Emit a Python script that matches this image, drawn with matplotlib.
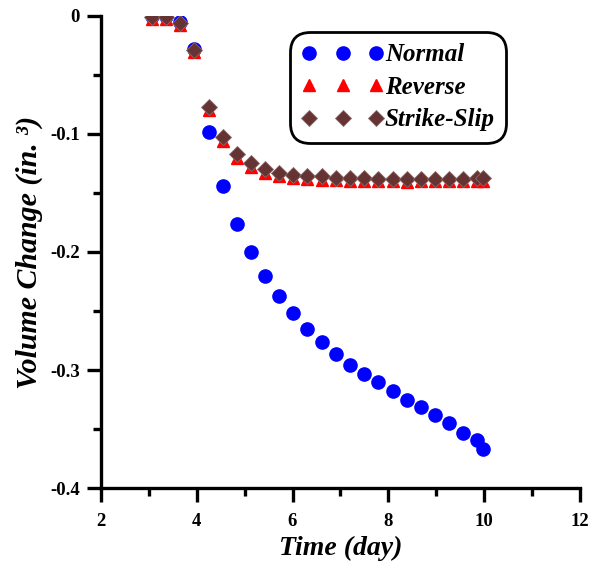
import matplotlib
matplotlib.use("Agg")
import matplotlib.pyplot as plt
from matplotlib.ticker import MultipleLocator

plt.rcParams['font.family'] = ['Liberation Serif', 'DejaVu Serif']

time_day = [3.06, 3.36, 3.65, 3.95, 4.25, 4.54, 4.84, 5.13, 5.43, 5.72, 6.02, 6.31, 6.61,
            6.90, 7.20, 7.50, 7.79, 8.09, 8.38, 8.68, 8.97, 9.27, 9.56, 9.86, 9.97]
normal = [0.000, 0.000, -0.005, -0.028, -0.098, -0.144, -0.176, -0.200, -0.220, -0.237,
          -0.252, -0.265, -0.276, -0.286, -0.296, -0.303, -0.310, -0.318, -0.325, -0.331,
          -0.338, -0.345, -0.353, -0.359, -0.367]
reverse = [-0.003, -0.003, -0.008, -0.031, -0.080, -0.106, -0.120, -0.128, -0.133, -0.136,
           -0.137, -0.138, -0.139, -0.139, -0.140, -0.140, -0.140, -0.140, -0.141, -0.140,
           -0.140, -0.140, -0.140, -0.140, -0.140]
strike_slip = [-0.001, -0.001, -0.006, -0.029, -0.077, -0.103, -0.117, -0.125, -0.130, -0.133,
               -0.135, -0.136, -0.136, -0.137, -0.137, -0.137, -0.138, -0.138, -0.138, -0.138,
               -0.138, -0.138, -0.138, -0.137, -0.137]

fig = plt.figure(figsize=(5.9, 5.65), dpi=100)
ax = fig.add_axes([0.171, 0.136, 0.812, 0.836])

ax.plot(time_day, normal, linestyle='none', marker='o', markersize=9.5,
        color='#0000FF', markeredgecolor='#0000FF', label='Normal', zorder=3)
ax.plot(time_day, reverse, linestyle='none', marker='^', markersize=9,
        color='#FF0000', markeredgecolor='#FF0000', label='Reverse', zorder=4)
ax.plot(time_day, strike_slip, linestyle='none', marker='D', markersize=8,
        color='#663333', markeredgecolor='#8a6a6a', markeredgewidth=0.6,
        label='Strike-Slip', zorder=5)

ax.set_xlim(2, 12)
ax.set_ylim(-0.4, 0)
ax.xaxis.set_major_locator(MultipleLocator(2))
ax.xaxis.set_minor_locator(MultipleLocator(1))
ax.yaxis.set_minor_locator(MultipleLocator(0.05))
ax.set_yticks([0, -0.1, -0.2, -0.3, -0.4])
ax.set_yticklabels(['0', '-0.1', '-0.2', '-0.3', '-0.4'])

for s in ['top', 'right']:
    ax.spines[s].set_visible(False)
for s in ['left', 'bottom']:
    ax.spines[s].set_linewidth(2.4)

ax.tick_params(which='major', direction='out', length=10, width=2.4,
               labelsize=13.5, pad=5)
ax.tick_params(axis='x', which='major', pad=8)
ax.tick_params(which='minor', direction='out', length=6, width=2.4)
for lab in ax.get_xticklabels() + ax.get_yticklabels():
    lab.set_fontweight('bold')

ax.set_xlabel('Time (day)', fontsize=20, fontweight='bold', style='italic', labelpad=4)
ax.set_ylabel('Volume Change (in. \u00b3)', fontsize=21.5, fontweight='bold',
              style='italic', labelpad=5)

leg = ax.legend(loc='upper left', bbox_to_anchor=(0.4104, 0.9495), numpoints=3,
                prop={'family': 'Liberation Serif', 'weight': 'bold', 'style': 'italic', 'size': 18},
                frameon=True, fancybox=True, handlelength=3.3, handletextpad=0.05,
                borderpad=0.15, labelspacing=0.38, borderaxespad=0, framealpha=1)
frame = leg.get_frame()
frame.set_edgecolor('black')
frame.set_linewidth(2)
frame.set_boxstyle('round,pad=0.3,rounding_size=0.8')

fig.savefig('out.png', dpi=100)
